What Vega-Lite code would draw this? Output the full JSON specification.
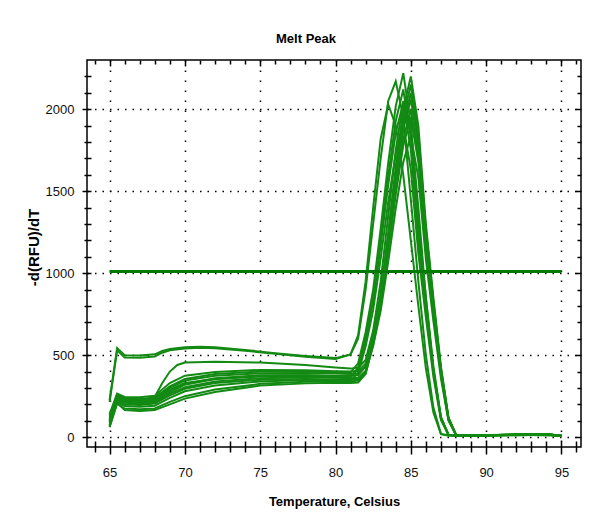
{
  "$schema": "https://vega.github.io/schema/vega-lite/v6.json",
  "width": 494,
  "height": 387,
  "autosize": {"type": "none"},
  "padding": {"left": 87, "top": 60, "right": 14, "bottom": 76},
  "background": "#ffffff",
  "config": {
    "view": {"stroke": "#000000", "strokeWidth": 1.5},
    "font": "Liberation Sans"
  },
  "title": {"text": "Melt Peak", "font": "Liberation Sans", "fontSize": 13, "fontWeight": "bold", "color": "#000000", "anchor": "middle", "dx": -28, "offset": 13},
  "datasets": {
    "curves": [
      {"c":"A1","t":65,"v":225},{"c":"A1","t":65.5,"v":543},{"c":"A1","t":66,"v":500},{"c":"A1","t":67,"v":498},{"c":"A1","t":68,"v":505},{"c":"A1","t":68.5,"v":525},{"c":"A1","t":69,"v":537},{"c":"A1","t":70,"v":548},{"c":"A1","t":71,"v":552},{"c":"A1","t":72,"v":548},{"c":"A1","t":74,"v":532},{"c":"A1","t":76,"v":512},{"c":"A1","t":78,"v":495},{"c":"A1","t":80,"v":482},{"c":"A1","t":81,"v":505},{"c":"A1","t":81.5,"v":600},{"c":"A1","t":82,"v":900},{"c":"A1","t":82.5,"v":1300},{"c":"A1","t":83,"v":1700},{"c":"A1","t":83.5,"v":2050},{"c":"A1","t":84,"v":2170},{"c":"A1","t":84.5,"v":1950},{"c":"A1","t":85,"v":1450},{"c":"A1","t":85.5,"v":950},{"c":"A1","t":86,"v":500},{"c":"A1","t":86.5,"v":180},{"c":"A1","t":87,"v":20},{"c":"A1","t":87.5,"v":10},{"c":"A1","t":88,"v":8},{"c":"A1","t":90,"v":10},{"c":"A1","t":92,"v":12},{"c":"A1","t":94,"v":15},{"c":"A1","t":95,"v":8},
      {"c":"A2","t":65,"v":215},{"c":"A2","t":65.5,"v":530},{"c":"A2","t":66,"v":485},{"c":"A2","t":67,"v":484},{"c":"A2","t":68,"v":492},{"c":"A2","t":68.5,"v":515},{"c":"A2","t":69,"v":530},{"c":"A2","t":70,"v":540},{"c":"A2","t":71,"v":545},{"c":"A2","t":72,"v":542},{"c":"A2","t":74,"v":527},{"c":"A2","t":76,"v":508},{"c":"A2","t":78,"v":490},{"c":"A2","t":80,"v":476},{"c":"A2","t":81,"v":505},{"c":"A2","t":81.5,"v":620},{"c":"A2","t":82,"v":950},{"c":"A2","t":82.5,"v":1400},{"c":"A2","t":83,"v":1820},{"c":"A2","t":83.5,"v":2030},{"c":"A2","t":84,"v":1900},{"c":"A2","t":84.5,"v":1600},{"c":"A2","t":85,"v":1200},{"c":"A2","t":85.5,"v":800},{"c":"A2","t":86,"v":420},{"c":"A2","t":86.5,"v":150},{"c":"A2","t":87,"v":18},{"c":"A2","t":87.5,"v":10},{"c":"A2","t":88,"v":8},{"c":"A2","t":90,"v":10},{"c":"A2","t":92,"v":12},{"c":"A2","t":94,"v":14},{"c":"A2","t":95,"v":8},
      {"c":"C1","t":65,"v":100},{"c":"C1","t":65.5,"v":260},{"c":"C1","t":66,"v":225},{"c":"C1","t":67,"v":220},{"c":"C1","t":68,"v":245},{"c":"C1","t":68.5,"v":330},{"c":"C1","t":69,"v":400},{"c":"C1","t":69.5,"v":440},{"c":"C1","t":70,"v":455},{"c":"C1","t":72,"v":460},{"c":"C1","t":75,"v":455},{"c":"C1","t":78,"v":440},{"c":"C1","t":80,"v":425},{"c":"C1","t":81,"v":418},{"c":"C1","t":81.5,"v":425},{"c":"C1","t":82,"v":470},{"c":"C1","t":82.5,"v":650},{"c":"C1","t":83,"v":950},{"c":"C1","t":83.5,"v":1350},{"c":"C1","t":84,"v":1750},{"c":"C1","t":84.5,"v":2050},{"c":"C1","t":85,"v":1900},{"c":"C1","t":85.5,"v":1400},{"c":"C1","t":86,"v":850},{"c":"C1","t":86.5,"v":400},{"c":"C1","t":87,"v":120},{"c":"C1","t":87.5,"v":15},{"c":"C1","t":88,"v":10},{"c":"C1","t":90,"v":12},{"c":"C1","t":92,"v":14},{"c":"C1","t":95,"v":8},
      {"c":"B1","t":65,"v":130},{"c":"B1","t":65.5,"v":260},{"c":"B1","t":66,"v":235},{"c":"B1","t":67,"v":232},{"c":"B1","t":68,"v":240},{"c":"B1","t":69,"v":310},{"c":"B1","t":70,"v":355},{"c":"B1","t":72,"v":385},{"c":"B1","t":75,"v":400},{"c":"B1","t":78,"v":400},{"c":"B1","t":80,"v":395},{"c":"B1","t":81,"v":395},{"c":"B1","t":81.5,"v":450},{"c":"B1","t":82,"v":640},{"c":"B1","t":82.5,"v":900},{"c":"B1","t":83,"v":1271},{"c":"B1","t":83.5,"v":1673},{"c":"B1","t":84,"v":2019},{"c":"B1","t":84.5,"v":2220},{"c":"B1","t":85,"v":1910},{"c":"B1","t":85.5,"v":1310},{"c":"B1","t":86,"v":855},{"c":"B1","t":86.5,"v":433},{"c":"B1","t":87,"v":122},{"c":"B1","t":87.5,"v":15},{"c":"B1","t":88,"v":10},{"c":"B1","t":88.5,"v":9},{"c":"B1","t":90,"v":11},{"c":"B1","t":92,"v":14},{"c":"B1","t":94,"v":16},{"c":"B1","t":95,"v":8},
      {"c":"B2","t":65,"v":90},{"c":"B2","t":65.5,"v":240},{"c":"B2","t":66,"v":215},{"c":"B2","t":67,"v":212},{"c":"B2","t":68,"v":220},{"c":"B2","t":69,"v":275},{"c":"B2","t":70,"v":320},{"c":"B2","t":72,"v":355},{"c":"B2","t":75,"v":375},{"c":"B2","t":78,"v":378},{"c":"B2","t":80,"v":375},{"c":"B2","t":81,"v":375},{"c":"B2","t":81.5,"v":378},{"c":"B2","t":82,"v":430},{"c":"B2","t":82.5,"v":620},{"c":"B2","t":83,"v":880},{"c":"B2","t":83.5,"v":1250},{"c":"B2","t":84,"v":1650},{"c":"B2","t":84.5,"v":2000},{"c":"B2","t":85,"v":2200},{"c":"B2","t":85.5,"v":1900},{"c":"B2","t":86,"v":1300},{"c":"B2","t":86.5,"v":850},{"c":"B2","t":87,"v":430},{"c":"B2","t":87.5,"v":120},{"c":"B2","t":88,"v":15},{"c":"B2","t":88.5,"v":10},{"c":"B2","t":90,"v":12},{"c":"B2","t":92,"v":16},{"c":"B2","t":94,"v":18},{"c":"B2","t":95,"v":8},
      {"c":"B3","t":65,"v":70},{"c":"B3","t":65.5,"v":225},{"c":"B3","t":66,"v":200},{"c":"B3","t":67,"v":196},{"c":"B3","t":68,"v":205},{"c":"B3","t":69,"v":255},{"c":"B3","t":70,"v":295},{"c":"B3","t":72,"v":330},{"c":"B3","t":75,"v":350},{"c":"B3","t":78,"v":355},{"c":"B3","t":80,"v":352},{"c":"B3","t":81,"v":350},{"c":"B3","t":81.5,"v":355},{"c":"B3","t":82,"v":403},{"c":"B3","t":82.5,"v":585},{"c":"B3","t":83,"v":835},{"c":"B3","t":83.5,"v":1190},{"c":"B3","t":84,"v":1575},{"c":"B3","t":84.5,"v":1908},{"c":"B3","t":85,"v":2100},{"c":"B3","t":85.5,"v":1806},{"c":"B3","t":86,"v":1239},{"c":"B3","t":86.5,"v":808},{"c":"B3","t":87,"v":410},{"c":"B3","t":87.5,"v":115},{"c":"B3","t":88,"v":14},{"c":"B3","t":88.5,"v":10},{"c":"B3","t":90,"v":11},{"c":"B3","t":92,"v":15},{"c":"B3","t":94,"v":17},{"c":"B3","t":95,"v":7},
      {"c":"B4","t":65,"v":100},{"c":"B4","t":65.5,"v":250},{"c":"B4","t":66,"v":225},{"c":"B4","t":67,"v":222},{"c":"B4","t":68,"v":230},{"c":"B4","t":69,"v":290},{"c":"B4","t":70,"v":330},{"c":"B4","t":72,"v":355},{"c":"B4","t":75,"v":370},{"c":"B4","t":78,"v":370},{"c":"B4","t":80,"v":365},{"c":"B4","t":81,"v":365},{"c":"B4","t":81.5,"v":415},{"c":"B4","t":82,"v":589},{"c":"B4","t":82.5,"v":829},{"c":"B4","t":83,"v":1169},{"c":"B4","t":83.5,"v":1538},{"c":"B4","t":84,"v":1856},{"c":"B4","t":84.5,"v":2040},{"c":"B4","t":85,"v":1754},{"c":"B4","t":85.5,"v":1204},{"c":"B4","t":86,"v":785},{"c":"B4","t":86.5,"v":398},{"c":"B4","t":87,"v":112},{"c":"B4","t":87.5,"v":14},{"c":"B4","t":88,"v":10},{"c":"B4","t":88.5,"v":9},{"c":"B4","t":90,"v":12},{"c":"B4","t":92,"v":15},{"c":"B4","t":94,"v":17},{"c":"B4","t":95,"v":8},
      {"c":"B5","t":65,"v":60},{"c":"B5","t":65.5,"v":205},{"c":"B5","t":66,"v":175},{"c":"B5","t":67,"v":170},{"c":"B5","t":68,"v":175},{"c":"B5","t":69,"v":215},{"c":"B5","t":70,"v":250},{"c":"B5","t":72,"v":290},{"c":"B5","t":75,"v":325},{"c":"B5","t":78,"v":338},{"c":"B5","t":80,"v":340},{"c":"B5","t":81,"v":340},{"c":"B5","t":81.5,"v":345},{"c":"B5","t":82,"v":390},{"c":"B5","t":82.5,"v":562},{"c":"B5","t":83,"v":800},{"c":"B5","t":83.5,"v":1137},{"c":"B5","t":84,"v":1502},{"c":"B5","t":84.5,"v":1817},{"c":"B5","t":85,"v":2000},{"c":"B5","t":85.5,"v":1720},{"c":"B5","t":86,"v":1180},{"c":"B5","t":86.5,"v":770},{"c":"B5","t":87,"v":390},{"c":"B5","t":87.5,"v":110},{"c":"B5","t":88,"v":14},{"c":"B5","t":88.5,"v":10},{"c":"B5","t":90,"v":12},{"c":"B5","t":92,"v":14},{"c":"B5","t":94,"v":16},{"c":"B5","t":95,"v":8},
      {"c":"B6","t":65,"v":85},{"c":"B6","t":65.5,"v":235},{"c":"B6","t":66,"v":210},{"c":"B6","t":67,"v":205},{"c":"B6","t":68,"v":212},{"c":"B6","t":69,"v":265},{"c":"B6","t":70,"v":305},{"c":"B6","t":72,"v":340},{"c":"B6","t":75,"v":360},{"c":"B6","t":78,"v":365},{"c":"B6","t":80,"v":362},{"c":"B6","t":81,"v":360},{"c":"B6","t":81.5,"v":362},{"c":"B6","t":82,"v":404},{"c":"B6","t":82.5,"v":558},{"c":"B6","t":83,"v":770},{"c":"B6","t":83.5,"v":1070},{"c":"B6","t":84,"v":1396},{"c":"B6","t":84.5,"v":1677},{"c":"B6","t":85,"v":1840},{"c":"B6","t":85.5,"v":1582},{"c":"B6","t":86,"v":1086},{"c":"B6","t":86.5,"v":708},{"c":"B6","t":87,"v":359},{"c":"B6","t":87.5,"v":101},{"c":"B6","t":88,"v":13},{"c":"B6","t":88.5,"v":9},{"c":"B6","t":90,"v":11},{"c":"B6","t":92,"v":14},{"c":"B6","t":94,"v":17},{"c":"B6","t":95,"v":9},
      {"c":"B7","t":65,"v":120},{"c":"B7","t":65.5,"v":255},{"c":"B7","t":66,"v":230},{"c":"B7","t":67,"v":228},{"c":"B7","t":68,"v":238},{"c":"B7","t":69,"v":300},{"c":"B7","t":70,"v":345},{"c":"B7","t":72,"v":375},{"c":"B7","t":75,"v":390},{"c":"B7","t":78,"v":392},{"c":"B7","t":80,"v":388},{"c":"B7","t":81,"v":385},{"c":"B7","t":81.5,"v":390},{"c":"B7","t":82,"v":432},{"c":"B7","t":82.5,"v":595},{"c":"B7","t":83,"v":819},{"c":"B7","t":83.5,"v":1136},{"c":"B7","t":84,"v":1481},{"c":"B7","t":84.5,"v":1778},{"c":"B7","t":85,"v":1950},{"c":"B7","t":85.5,"v":1677},{"c":"B7","t":86,"v":1150},{"c":"B7","t":86.5,"v":750},{"c":"B7","t":87,"v":380},{"c":"B7","t":87.5,"v":107},{"c":"B7","t":88,"v":14},{"c":"B7","t":88.5,"v":10},{"c":"B7","t":90,"v":12},{"c":"B7","t":92,"v":15},{"c":"B7","t":94,"v":18},{"c":"B7","t":95,"v":8},
      {"c":"B8","t":65,"v":75},{"c":"B8","t":65.5,"v":215},{"c":"B8","t":66,"v":190},{"c":"B8","t":67,"v":186},{"c":"B8","t":68,"v":192},{"c":"B8","t":69,"v":240},{"c":"B8","t":70,"v":280},{"c":"B8","t":72,"v":315},{"c":"B8","t":75,"v":340},{"c":"B8","t":78,"v":348},{"c":"B8","t":80,"v":345},{"c":"B8","t":81,"v":345},{"c":"B8","t":81.5,"v":392},{"c":"B8","t":82,"v":553},{"c":"B8","t":82.5,"v":776},{"c":"B8","t":83,"v":1091},{"c":"B8","t":83.5,"v":1434},{"c":"B8","t":84,"v":1729},{"c":"B8","t":84.5,"v":1900},{"c":"B8","t":85,"v":1634},{"c":"B8","t":85.5,"v":1121},{"c":"B8","t":86,"v":731},{"c":"B8","t":86.5,"v":370},{"c":"B8","t":87,"v":105},{"c":"B8","t":87.5,"v":14},{"c":"B8","t":88,"v":10},{"c":"B8","t":88.5,"v":9},{"c":"B8","t":90,"v":11},{"c":"B8","t":92,"v":14},{"c":"B8","t":94,"v":16},{"c":"B8","t":95,"v":7},
      {"c":"B9","t":65,"v":65},{"c":"B9","t":65.5,"v":210},{"c":"B9","t":66,"v":165},{"c":"B9","t":67,"v":160},{"c":"B9","t":68,"v":165},{"c":"B9","t":69,"v":200},{"c":"B9","t":70,"v":235},{"c":"B9","t":72,"v":275},{"c":"B9","t":75,"v":315},{"c":"B9","t":78,"v":328},{"c":"B9","t":80,"v":332},{"c":"B9","t":81,"v":330},{"c":"B9","t":81.5,"v":333},{"c":"B9","t":82,"v":385},{"c":"B9","t":82.5,"v":574},{"c":"B9","t":83,"v":834},{"c":"B9","t":83.5,"v":1204},{"c":"B9","t":84,"v":1604},{"c":"B9","t":84.5,"v":1950},{"c":"B9","t":85,"v":2150},{"c":"B9","t":85.5,"v":1849},{"c":"B9","t":86,"v":1269},{"c":"B9","t":86.5,"v":828},{"c":"B9","t":87,"v":419},{"c":"B9","t":87.5,"v":118},{"c":"B9","t":88,"v":15},{"c":"B9","t":88.5,"v":10},{"c":"B9","t":90,"v":13},{"c":"B9","t":92,"v":16},{"c":"B9","t":94,"v":19},{"c":"B9","t":95,"v":9},
      {"c":"B10","t":65,"v":140},{"c":"B10","t":65.5,"v":265},{"c":"B10","t":66,"v":245},{"c":"B10","t":67,"v":243},{"c":"B10","t":68,"v":252},{"c":"B10","t":69,"v":330},{"c":"B10","t":70,"v":375},{"c":"B10","t":72,"v":398},{"c":"B10","t":75,"v":410},{"c":"B10","t":78,"v":408},{"c":"B10","t":80,"v":402},{"c":"B10","t":81,"v":400},{"c":"B10","t":81.5,"v":403},{"c":"B10","t":82,"v":450},{"c":"B10","t":82.5,"v":622},{"c":"B10","t":83,"v":860},{"c":"B10","t":83.5,"v":1197},{"c":"B10","t":84,"v":1562},{"c":"B10","t":84.5,"v":1877},{"c":"B10","t":85,"v":2060},{"c":"B10","t":85.5,"v":1772},{"c":"B10","t":86,"v":1215},{"c":"B10","t":86.5,"v":793},{"c":"B10","t":87,"v":402},{"c":"B10","t":87.5,"v":113},{"c":"B10","t":88,"v":14},{"c":"B10","t":88.5,"v":10},{"c":"B10","t":90,"v":12},{"c":"B10","t":92,"v":15},{"c":"B10","t":94,"v":17},{"c":"B10","t":95,"v":8},
      {"c":"B11","t":65,"v":110},{"c":"B11","t":65.5,"v":245},{"c":"B11","t":66,"v":220},{"c":"B11","t":67,"v":217},{"c":"B11","t":68,"v":226},{"c":"B11","t":69,"v":285},{"c":"B11","t":70,"v":325},{"c":"B11","t":72,"v":360},{"c":"B11","t":75,"v":378},{"c":"B11","t":78,"v":377},{"c":"B11","t":80,"v":372},{"c":"B11","t":81,"v":370},{"c":"B11","t":81.5,"v":423},{"c":"B11","t":82,"v":605},{"c":"B11","t":82.5,"v":855},{"c":"B11","t":83,"v":1210},{"c":"B11","t":83.5,"v":1595},{"c":"B11","t":84,"v":1928},{"c":"B11","t":84.5,"v":2120},{"c":"B11","t":85,"v":1823},{"c":"B11","t":85.5,"v":1251},{"c":"B11","t":86,"v":816},{"c":"B11","t":86.5,"v":413},{"c":"B11","t":87,"v":117},{"c":"B11","t":87.5,"v":15},{"c":"B11","t":88,"v":10},{"c":"B11","t":88.5,"v":9},{"c":"B11","t":90,"v":12},{"c":"B11","t":92,"v":15},{"c":"B11","t":94,"v":18},{"c":"B11","t":95,"v":8}
    ],
    "threshold": [{"t": 65, "v": 1010}, {"t": 95, "v": 1010}]
  },
  "resolve": {"axis": {"x": "independent", "y": "independent"}},
  "layer": [
    {
      "data": {"name": "curves"},
      "mark": {"type": "line", "stroke": "#138a13", "strokeWidth": 2, "interpolate": "linear"},
      "encoding": {
        "x": {"field": "t", "type": "quantitative", "scale": {"domain": [63.5, 96.3], "nice": false, "zero": false},
          "axis": {"orient": "bottom", "values": [65, 70, 75, 80, 85, 90, 95], "format": "d", "ticks": false, "tickSize": 0, "domain": false, "grid": true, "gridColor": "#000000", "gridWidth": 1.5, "gridDash": [1.5, 8.5], "labelFont": "Liberation Sans", "labelFontSize": 13, "labelColor": "#111111", "labelPadding": 19, "labelFlush": false, "labelOverlap": false, "title": "Temperature, Celsius", "titleFont": "Liberation Sans", "titleFontSize": 13, "titleFontWeight": "bold", "titleColor": "#000000", "titleY": 58, "titleBaseline": "alphabetic"}},
        "y": {"field": "v", "type": "quantitative", "scale": {"domain": [-60, 2300], "nice": false, "zero": false},
          "axis": {"orient": "left", "values": [0, 500, 1000, 1500, 2000], "format": "d", "ticks": false, "tickSize": 0, "domain": false, "grid": true, "gridColor": "#000000", "gridWidth": 1.5, "gridDash": [1.5, 6], "labelFont": "Liberation Sans", "labelFontSize": 13, "labelColor": "#111111", "labelPadding": 13, "labelOverlap": false, "title": "-d(RFU)/dT", "titleFont": "Liberation Sans", "titleFontSize": 15, "titleFontWeight": "bold", "titleColor": "#000000", "titleX": -49, "titleY": 187, "titleBaseline": "alphabetic"}},
        "detail": {"field": "c", "type": "nominal"}
      }
    },
    {
      "data": {"name": "threshold"},
      "mark": {"type": "line", "stroke": "#007a00", "strokeWidth": 3},
      "encoding": {
        "x": {"field": "t", "type": "quantitative",
          "axis": {"orient": "bottom", "values": [64, 65, 66, 67, 68, 69, 70, 71, 72, 73, 74, 75, 76, 77, 78, 79, 80, 81, 82, 83, 84, 85, 86, 87, 88, 89, 90, 91, 92, 93, 94, 95, 96], "labels": false, "grid": false, "domain": false, "title": null, "offset": -6, "tickColor": "#000000", "tickWidth": 1.5, "tickSize": {"condition": {"test": "datum.value % 5 === 0", "value": 13}, "value": 11}}},
        "y": {"field": "v", "type": "quantitative",
          "axis": {"orient": "left", "values": [0, 100, 200, 300, 400, 500, 600, 700, 800, 900, 1000, 1100, 1200, 1300, 1400, 1500, 1600, 1700, 1800, 1900, 2000, 2100, 2200], "labels": false, "grid": false, "domain": false, "title": null, "offset": -4, "tickColor": "#000000", "tickWidth": 1.5, "tickSize": {"condition": {"test": "datum.value % 500 === 0", "value": 9}, "value": 7}}}
      }
    },
    {
      "data": {"name": "threshold"},
      "mark": {"type": "line", "strokeOpacity": 0},
      "encoding": {
        "x": {"field": "t", "type": "quantitative",
          "axis": {"orient": "top", "values": [64, 65, 66, 67, 68, 69, 70, 71, 72, 73, 74, 75, 76, 77, 78, 79, 80, 81, 82, 83, 84, 85, 86, 87, 88, 89, 90, 91, 92, 93, 94, 95, 96], "labels": false, "grid": false, "domain": false, "title": null, "tickColor": "#000000", "tickWidth": 1.5, "tickSize": {"condition": {"test": "datum.value % 5 === 0", "value": -6}, "value": -4}}},
        "y": {"field": "v", "type": "quantitative",
          "axis": {"orient": "right", "values": [0, 100, 200, 300, 400, 500, 600, 700, 800, 900, 1000, 1100, 1200, 1300, 1400, 1500, 1600, 1700, 1800, 1900, 2000, 2100, 2200], "labels": false, "grid": false, "domain": false, "title": null, "tickColor": "#000000", "tickWidth": 1.5, "tickSize": {"condition": {"test": "datum.value % 500 === 0", "value": -6}, "value": -4}}}
      }
    }
  ]
}
